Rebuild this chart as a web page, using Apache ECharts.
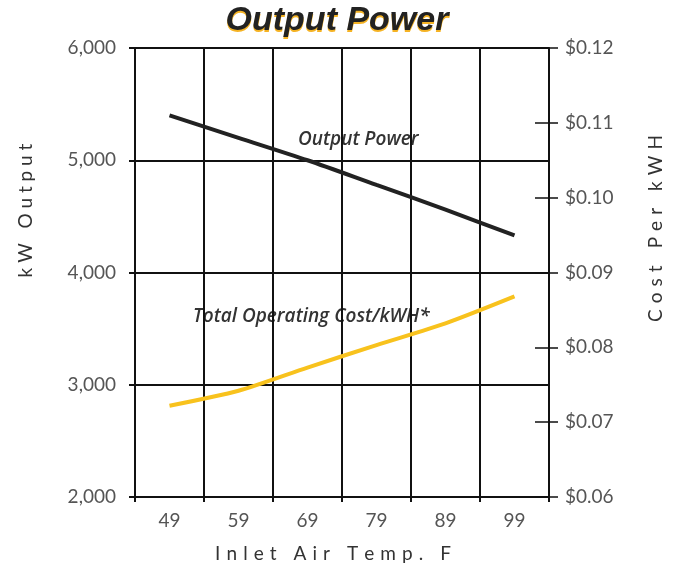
<!DOCTYPE html>
<html>
<head>
<meta charset="utf-8">
<script src="https://cdn.jsdelivr.net/npm/echarts@6/dist/echarts.min.js"></script>
<style>
  html, body { margin: 0; padding: 0; background: #fff; }
  #chart { width: 674px; height: 574px; }
</style>
</head>
<body>
<div id="chart"></div>
<script>
// inlet air temperature (F)
const temps = ['49', '59', '69', '79', '89', '99']
// kW output, left axis
const outputKW = [5400, 5200, 5000, 4780, 4560, 4330]
// total operating cost per kWH, right axis
const costPerKWH = [0.0722, 0.0742, 0.0773, 0.0803, 0.0832, 0.0868]

const kwMin = 2000, kwMax = 6000, kwStep = 1000
const costMin = 0.06, costMax = 0.12, costStep = 0.01

const ink = '#111'
const labelFont = { color: '#555', fontSize: 19, fontFamily: 'Lato', fontWeight: 'normal' }
const nameFont = { color: '#333', fontSize: 19, fontFamily: 'Lato', fontWeight: 'normal' }

// spread letters out like the printed axis titles
const spaced = (s, gap) => s.split('').join(gap || ' ')

const titleText = {
    fontFamily: 'Liberation Sans',
    fontSize: 34,
    fontWeight: 'bold',
    fontStyle: 'italic'
}

const chart = echarts.init(document.getElementById('chart'))

const option = {
    backgroundColor: '#fff',
    animation: false,
    title: [
        // yellow drop shadow behind the title
        { text: 'Output Power', left: 'center', top: 6, padding: [0, 0, 0, 4],
          textStyle: Object.assign({ color: '#f5b324' }, titleText) },
        { text: 'Output Power', left: 'center', top: 4, padding: 0,
          textStyle: Object.assign({ color: '#222' }, titleText) }
    ],
    grid: { left: 135, right: 125, top: 48, bottom: 77 },
    xAxis: {
        type: 'category',
        data: temps,
        boundaryGap: true,
        name: spaced('Inlet Air Temp. F', ' \u200a'),
        nameLocation: 'middle',
        nameGap: 47,
        nameTextStyle: Object.assign({ padding: [0, 18, 0, 0] }, nameFont),
        axisLine: { lineStyle: { color: ink, width: 2 } },
        axisTick: { show: true, length: 5, lineStyle: { color: ink, width: 2 } },
        axisLabel: Object.assign({ margin: 14 }, labelFont),
        splitLine: { show: true, lineStyle: { color: ink, width: 2 } }
    },
    yAxis: [
        {
            type: 'value',
            position: 'left',
            min: kwMin,
            max: kwMax,
            interval: kwStep,
            name: spaced('kW Output'),
            nameLocation: 'middle',
            nameRotate: 90,
            nameGap: 100,
            nameTextStyle: Object.assign({ padding: [0, 0, 0, 124] }, nameFont),
            axisLine: { show: true, lineStyle: { color: ink, width: 2 } },
            axisTick: { show: true, length: 6, lineStyle: { color: ink, width: 2 } },
            axisLabel: Object.assign({ margin: 19 }, labelFont),
            splitLine: { show: true, lineStyle: { color: ink, width: 2 } }
        },
        {
            type: 'value',
            position: 'right',
            min: costMin,
            max: costMax,
            interval: costStep,
            name: spaced('Cost Per kWH', ' \u200a'),
            nameLocation: 'middle',
            nameRotate: 90,
            nameGap: 97,
            nameTextStyle: Object.assign({ padding: [0, 0, 0, 88] }, nameFont),
            axisLine: { show: true, lineStyle: { color: ink, width: 2 } },
            axisTick: { show: true, inside: true, length: 14, lineStyle: { color: ink, width: 1.5 } },
            axisLabel: Object.assign({ margin: 16, formatter: v => '$' + v.toFixed(2) }, labelFont),
            splitLine: { show: false }
        },
        {
            // outer half of the right-hand tick marks
            type: 'value',
            position: 'right',
            min: costMin,
            max: costMax,
            interval: costStep,
            axisLine: { show: false },
            axisTick: { show: true, length: 9, lineStyle: { color: ink, width: 1.5 } },
            axisLabel: { show: false },
            splitLine: { show: false }
        }
    ],
    graphic: [
        {
            type: 'text',
            x: 298,
            y: 140,
            style: {
                text: 'Output Power',
                fill: '#333',
                font: 'italic 600 19px "Open Sans"',
                verticalAlign: 'middle'
            }
        },
        {
            type: 'text',
            x: 193,
            y: 317,
            style: {
                text: 'Total Operating Cost/kWH*',
                fill: '#333',
                font: 'italic 600 19px "Open Sans"',
                verticalAlign: 'middle'
            }
        }
    ],
    series: [
        {
            name: 'Output Power',
            type: 'line',
            yAxisIndex: 0,
            data: outputKW,
            smooth: 0.3,
            symbol: 'none',
            lineStyle: { color: '#222', width: 4 },
            z: 5
        },
        {
            name: 'Total Operating Cost/kWH*',
            type: 'line',
            yAxisIndex: 1,
            data: costPerKWH,
            smooth: 0.25,
            symbol: 'none',
            lineStyle: { color: '#f8c21d', width: 4 },
            z: 5
        }
    ]
}

chart.setOption(option)
</script>
</body>
</html>
